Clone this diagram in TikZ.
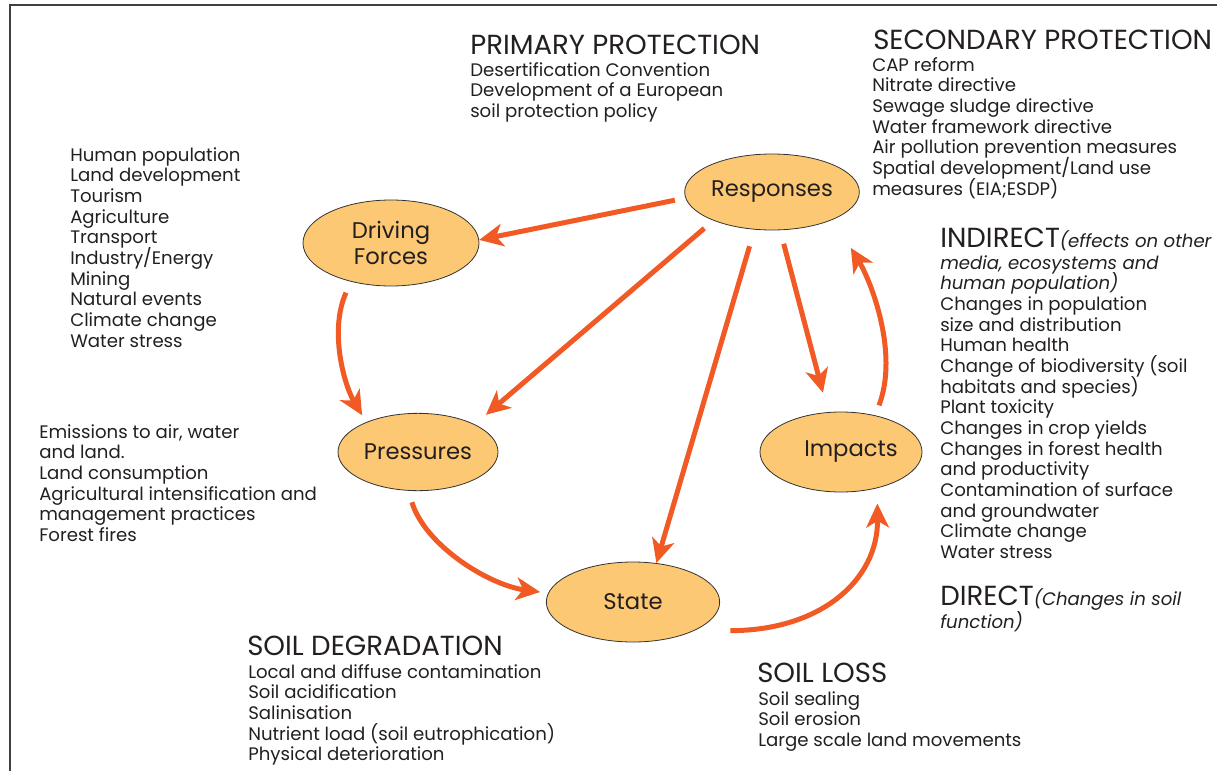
\documentclass[tikz,border=0pt]{standalone}
\usepackage{fontspec}
\setmainfont{Poppins}
\usetikzlibrary{arrows.meta,shapes.geometric}
\definecolor{arr}{HTML}{F15A24}
\definecolor{ell}{HTML}{FCC873}
\definecolor{txt}{HTML}{231F20}
\newcommand\subital{\fontsize{13.6}{15.5}\selectfont\itshape}
\tikzset{
  bub/.style={ellipse, draw=black!80, line width=0.6pt, fill=ell, inner sep=0pt,
    font=\fontsize{17}{19.5}\selectfont, text=txt, align=center},
  flow/.style={draw=arr, line width=3.75pt, -{Stealth[length=18pt,width=17pt,inset=5pt]}},
  lst/.style={anchor=north west, align=left, inner sep=0pt, text=txt,
    font=\fontsize{13.6}{15.5}\selectfont},
  hdr/.style={anchor=north west, inner sep=0pt, text=txt,
    font=\fontsize{20.7}{22}\selectfont}
}
\begin{document}
\setlength{\lineskiplimit}{-20pt}%
\begin{tikzpicture}[x=0.75pt,y=-0.75pt]
\useasboundingbox (0,0) rectangle (1217,771);
\draw[line width=1.2pt, black!75] (10,771) -- (10,5) -- (1217,5);

% ellipses
\node[bub, minimum width=131pt, minimum height=57pt] (resp) at (772,192) {Responses};
\node[bub, minimum width=132pt, minimum height=64.5pt] (df) at (391,243) {Driving\\Forces};
\node[bub, minimum width=120pt, minimum height=58pt] (pres) at (418,452) {Pressures};
\node[bub, minimum width=121.5pt, minimum height=60pt] (imp) at (841,452) {\hspace*{15pt}Impacts};
\node[bub, minimum width=130pt, minimum height=60pt] (state) at (633,602) {State};

% straight arrows
\draw[flow, shorten <=8pt] (resp.184) -- (df.2);
\draw[flow, shorten <=9pt, shorten >=11pt] (resp.206) -- (pres.26);
\draw[flow, shorten <=13pt] (resp.245) -- (state.59);
\draw[flow, shorten <=10.5pt, shorten >=15pt] (resp.282) -- (imp.108);
% curved arrows
\draw[flow, shorten <=8pt, shorten >=25pt] (imp.47) .. controls +(24,-63) and +(37,61) .. (resp.336);
\draw[flow, shorten <=9pt, shorten >=6pt] (df.224) .. controls +(-22,49) and +(-22,-37) .. (pres.150);
\draw[flow, shorten <=9pt, shorten >=6pt] (pres.256) .. controls +(17,55) and +(-59,-8) .. (state.174);
\draw[flow, shorten <=27pt, shorten >=11.5pt] (state.335) .. controls +(126,0) and +(1,92) .. (imp.315);

% texts
\node[hdr] (h1) at (470,35) {PRIMARY PROTECTION};
\node[lst] (l1) at (470,62) {Desertification Convention\\Development of a European\\soil protection policy};

\node[hdr] (h2) at (873,30) {SECONDARY PROTECTION};
\node[lst] (l2) at (872,57) {CAP reform\\Nitrate directive\\Sewage sludge directive\\Water framework directive\\Air pollution prevention measures\\Spatial development/Land use\\measures (EIA;ESDP)};

\node[lst] (l3) at (70,147) {Human population\\Land development\\Tourism\\Agriculture\\Transport\\Industry/Energy\\Mining\\Natural events\\Climate change\\Water stress};

\node[lst] (l4) at (39,424) {Emissions to air, water\\and land.\\Land consumption\\Agricultural intensification and\\management practices\\Forest fires};

\node[hdr] (h5) at (940,228) {INDIRECT{\subital(effects on other}};
\node[lst] (l5) at (940,255) {\textit{media, ecosystems and}\\\textit{human population)}\\Changes in population\\size and distribution\\Human health\\Change of biodiversity (soil\\habitats and species)\\Plant toxicity\\Changes in crop yields\\Changes in forest health\\and productivity\\Contamination of surface\\and groundwater\\Climate change\\Water stress};

\node[hdr] (h6) at (940,586) {DIRECT{\subital(Changes in soil}};
\node[lst] (l6) at (940,611) {\textit{function)}};

\node[hdr] (h7) at (247,636) {SOIL DEGRADATION};
\node[lst] (l7) at (248,664) {Local and diffuse contamination\\Soil acidification\\Salinisation\\Nutrient load (soil eutrophication)\\Physical deterioration};

\node[hdr] (h8) at (757,663) {SOIL LOSS};
\node[lst] (l8) at (758,691) {Soil sealing\\Soil erosion\\Large scale land movements};
\end{tikzpicture}
\end{document}
